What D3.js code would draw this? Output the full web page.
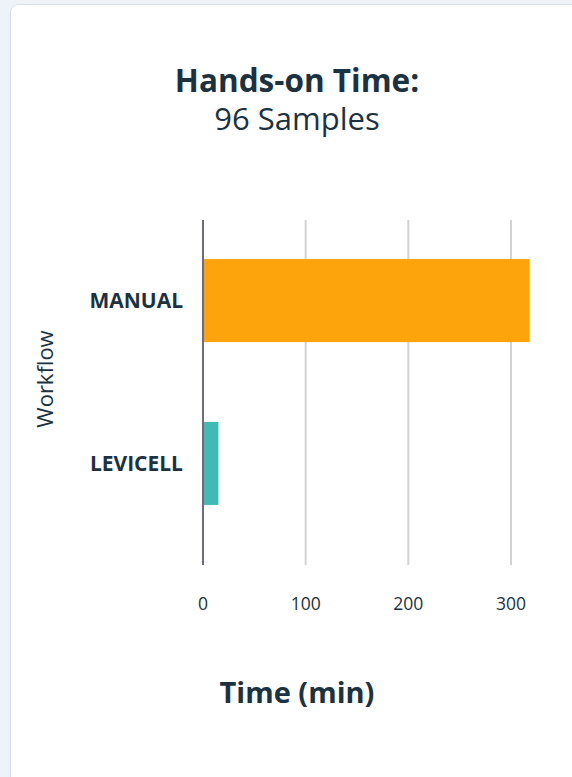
<!DOCTYPE html>
<html>
<head>
<meta charset="utf-8">
<script src="https://cdn.jsdelivr.net/npm/d3@7"></script>
<style>
  html, body { margin: 0; padding: 0; background: #eef3fa; }
  body { width: 572px; height: 777px; overflow: hidden; position: relative; }
  .card {
    position: absolute; left: 10px; top: 4px; width: 600px; height: 800px;
    background: #fff; border: 1.5px solid #d9e0ea; border-radius: 8px;
  }
  svg { position: absolute; left: 0; top: 0; font-family: "Open Sans", sans-serif; }
</style>
</head>
<body>
<div class="card"></div>
<svg id="chart" width="572" height="777"></svg>
<script>
// chart data
const workflows = ["MANUAL", "LEVICELL"];
const minutes = [318, 15];
const barColors = ["#fda30b", "#41b9b4"];
const tickValues = [0, 100, 200, 300];

const textColor = "#1b3242";

const svg = d3.select("#chart");

// plot area
const plotLeft = 203, plotRight = 511;
const plotTop = 220, gridBottom = 565, bandBottom = 544;

const x = d3.scaleLinear()
    .domain([0, 300])
    .range([plotLeft, plotRight]);

const y = d3.scaleBand()
    .domain(workflows)
    .range([plotTop, bandBottom])
    .paddingInner(0.49)
    .paddingOuter(0.24);

// title
svg.append("text")
    .attr("x", 297).attr("y", 92)
    .attr("text-anchor", "middle")
    .attr("font-size", 31.5).attr("font-weight", 700)
    .attr("fill", textColor)
    .text("Hands-on Time:");

svg.append("text")
    .attr("x", 297).attr("y", 130)
    .attr("text-anchor", "middle")
    .attr("font-size", 31)
    .attr("fill", textColor)
    .text("96 Samples");

// gridlines
svg.append("g")
    .selectAll("line")
    .data(tickValues.slice(1))
    .join("line")
        .attr("x1", d => x(d)).attr("x2", d => x(d))
        .attr("y1", plotTop).attr("y2", gridBottom)
        .attr("stroke", "#d3d3d3")
        .attr("stroke-width", 2);

// bars
svg.append("g")
    .selectAll("rect")
    .data(workflows)
    .join("rect")
        .attr("x", x(0))
        .attr("y", d => y(d))
        .attr("width", (d, i) => x(minutes[i]) - x(0))
        .attr("height", y.bandwidth())
        .attr("fill", (d, i) => barColors[i]);

// zero axis line
svg.append("line")
    .attr("x1", x(0)).attr("x2", x(0))
    .attr("y1", plotTop).attr("y2", gridBottom)
    .attr("stroke", "#6f6a80")
    .attr("stroke-width", 2);

// x tick labels
svg.append("g")
    .selectAll("text")
    .data(tickValues)
    .join("text")
        .attr("x", d => x(d))
        .attr("y", 610)
        .attr("text-anchor", "middle")
        .attr("font-size", 17.5)
        .attr("fill", textColor)
        .text(d => d);

// category labels
svg.append("g")
    .selectAll("text")
    .data(workflows)
    .join("text")
        .attr("x", 183)
        .attr("y", d => y(d) + y.bandwidth() / 2)
        .attr("dy", "0.35em")
        .attr("text-anchor", "end")
        .attr("font-size", 21).attr("font-weight", 700)
        .attr("fill", textColor)
        .text(d => d);

// axis titles
svg.append("text")
    .attr("transform", "translate(53,379) rotate(-90)")
    .attr("text-anchor", "middle")
    .attr("font-size", 22)
    .attr("fill", textColor)
    .text("Workflow");

svg.append("text")
    .attr("x", 297).attr("y", 703)
    .attr("text-anchor", "middle")
    .attr("font-size", 29).attr("font-weight", 700)
    .attr("fill", textColor)
    .text("Time (min)");
</script>
</body>
</html>
